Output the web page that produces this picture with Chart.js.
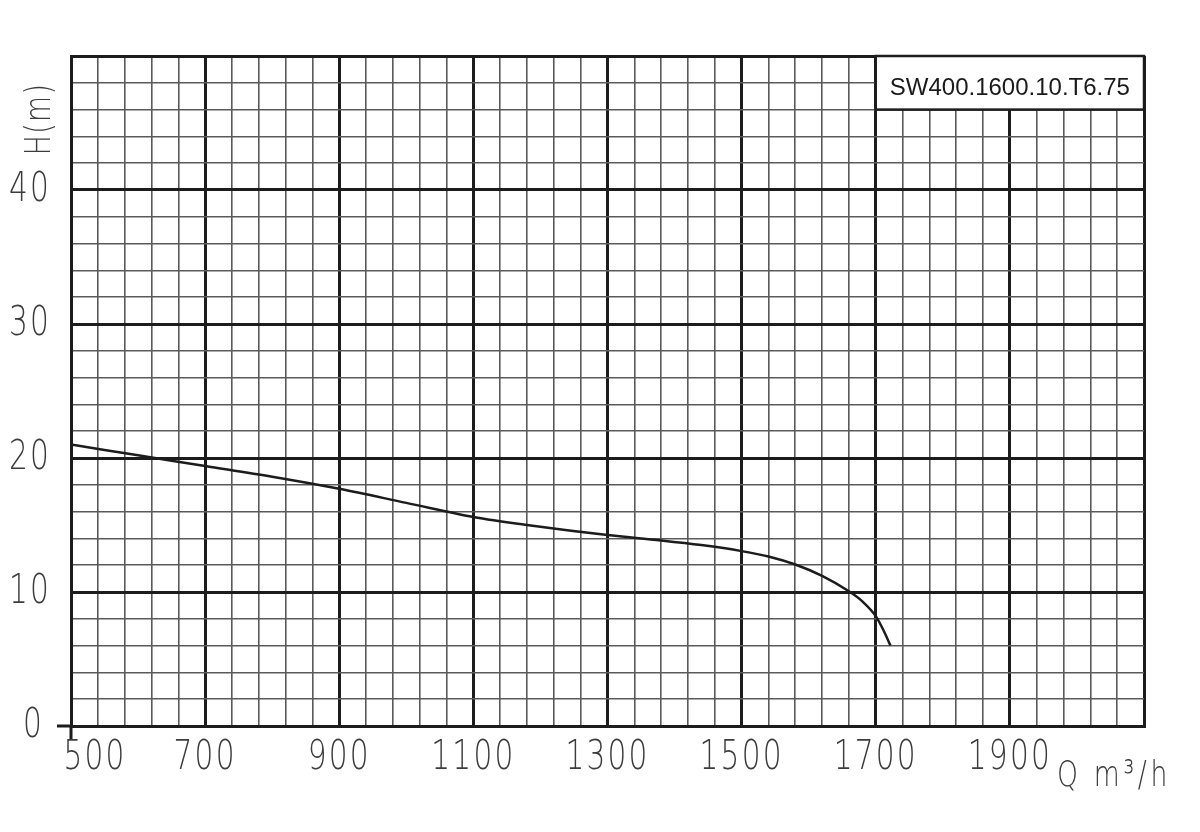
<!DOCTYPE html>
<html>
<head>
<meta charset="utf-8">
<script src="https://cdn.jsdelivr.net/npm/chart.js@4.4.1/dist/chart.umd.min.js"></script>
<style>
  html, body { margin: 0; padding: 0; background: #fff; }
  #c { display: block; }
</style>
</head>
<body>
<canvas id="c" width="1200" height="832"></canvas>
<script>
// ---- data ----
const flowQ = [500, 600, 700, 800, 900, 1000, 1100, 1180, 1300, 1380, 1440, 1500, 1540, 1580, 1620, 1660, 1680, 1700, 1711, 1722];
const headH = [21.0, 20.2, 19.4, 18.6, 17.7, 16.65, 15.6, 15.0, 14.25, 13.85, 13.5, 13.05, 12.65, 12.05, 11.2, 10.05, 9.3, 8.2, 7.2, 6.0];
const xTickLabels = [500, 700, 900, 1100, 1300, 1500, 1700, 1900];
const yTickLabels = [0, 10, 20, 30, 40];
const modelName = "SW400.1600.10.T6.75";
const yTitle = "H(m)";
const xTitle = "Q m³/h";

const points = flowQ.map((q, i) => ({ x: q, y: headH[i] }));

const DARK = '#1c1c1c';
const MINOR = '#5a5a5a';
const LABEL_FONT = '200 40px "DejaVu Sans"';
const LABEL_COLOR = '#3c3c3c';

function drawScaled(ctx, text, x, y, align, sx, spacing) {
  ctx.save();
  ctx.translate(x, y);
  ctx.scale(sx, 1);
  ctx.textAlign = align;
  ctx.letterSpacing = (spacing || 0) + 'px';
  ctx.fillText(text, 0, 0);
  ctx.restore();
}

const overlay = {
  id: 'overlay',
  afterDraw(chart) {
    const ctx = chart.ctx;
    const xs = chart.scales.x, ys = chart.scales.y;
    const ca = chart.chartArea;
    ctx.save();
    // axis extensions at origin
    ctx.strokeStyle = DARK;
    ctx.lineWidth = 3;
    ctx.beginPath();
    ctx.moveTo(ca.left - 14, ca.bottom); ctx.lineTo(ca.left, ca.bottom);
    ctx.moveTo(ca.left, ca.bottom); ctx.lineTo(ca.left, ca.bottom + 13);
    ctx.stroke();

    // tick labels
    ctx.fillStyle = LABEL_COLOR;
    ctx.font = LABEL_FONT;
    ctx.textBaseline = 'middle';
    xTickLabels.forEach((v, i) => {
      let px = xs.getPixelForValue(v);
      if (i === 0) px += 24;
      drawScaled(ctx, String(v), px, ca.bottom + 33, 'center', 0.74, 3);
    });
    yTickLabels.forEach(v => {
      const py = ys.getPixelForValue(v);
      drawScaled(ctx, String(v), ca.left - (v === 0 ? 27 : 20), py + 1, 'right', 0.74, 3);
    });
    // axis titles
    ctx.save();
    ctx.translate(41, ys.getPixelForValue(45.3));
    ctx.rotate(-Math.PI / 2);
    ctx.scale(0.74, 1);
    ctx.font = '200 36px "DejaVu Sans"';
    ctx.letterSpacing = '2px';
    ctx.textAlign = 'center';
    ctx.textBaseline = 'middle';
    ctx.fillText(yTitle, 0, 0);
    ctx.restore();

    ctx.font = '200 36px "DejaVu Sans"';
    ctx.textBaseline = 'alphabetic';
    drawScaled(ctx, xTitle, 1057, 786, 'left', 0.74, 5);

    // model box
    const bx0 = xs.getPixelForValue(1700), bx1 = xs.getPixelForValue(2100);
    const by0 = ys.getPixelForValue(50), by1 = ys.getPixelForValue(46);
    ctx.fillStyle = '#fff';
    ctx.fillRect(bx0, by0, bx1 - bx0, by1 - by0);
    ctx.strokeStyle = DARK;
    ctx.lineWidth = 2.5;
    ctx.strokeRect(bx0, by0, bx1 - bx0, by1 - by0);
    ctx.fillStyle = '#1a1a1a';
    ctx.font = '24px "Liberation Sans", Arial, sans-serif';
    ctx.textAlign = 'center';
    ctx.textBaseline = 'alphabetic';
    ctx.fillText(modelName, (bx0 + bx1) / 2, by0 + 39);
    ctx.restore();
  }
};

new Chart(document.getElementById('c'), {
  type: 'scatter',
  data: {
    datasets: [{
      data: points,
      showLine: true,
      borderColor: DARK,
      borderWidth: 2.5,
      pointRadius: 0,
      cubicInterpolationMode: 'monotone',
      fill: false
    }]
  },
  options: {
    responsive: false,
    animation: false,
    devicePixelRatio: 1,
    layout: { padding: { left: 0, top: 56, right: 56, bottom: 0 } },
    plugins: { legend: { display: false }, tooltip: { enabled: false } },
    scales: {
      x: {
        type: 'linear',
        min: 500, max: 2100,
        afterFit(s) { s.height = 106; },
        ticks: { stepSize: 40, display: false },
        border: { display: true, color: DARK, width: 3 },
        grid: {
          drawTicks: false,
          color: c => ((c.tick.value - 500) % 200 === 0 ? DARK : MINOR),
          lineWidth: c => ((c.tick.value - 500) % 200 === 0 ? 3 : 1.6)
        }
      },
      y: {
        type: 'linear',
        min: 0, max: 50,
        afterFit(s) { s.width = 71; },
        ticks: { stepSize: 2, display: false },
        border: { display: true, color: DARK, width: 3 },
        grid: {
          drawTicks: false,
          color: c => (c.tick.value % 10 === 0 ? DARK : MINOR),
          lineWidth: c => (c.tick.value % 10 === 0 ? 3 : 1.6)
        }
      }
    }
  },
  plugins: [overlay]
});
</script>
</body>
</html>
